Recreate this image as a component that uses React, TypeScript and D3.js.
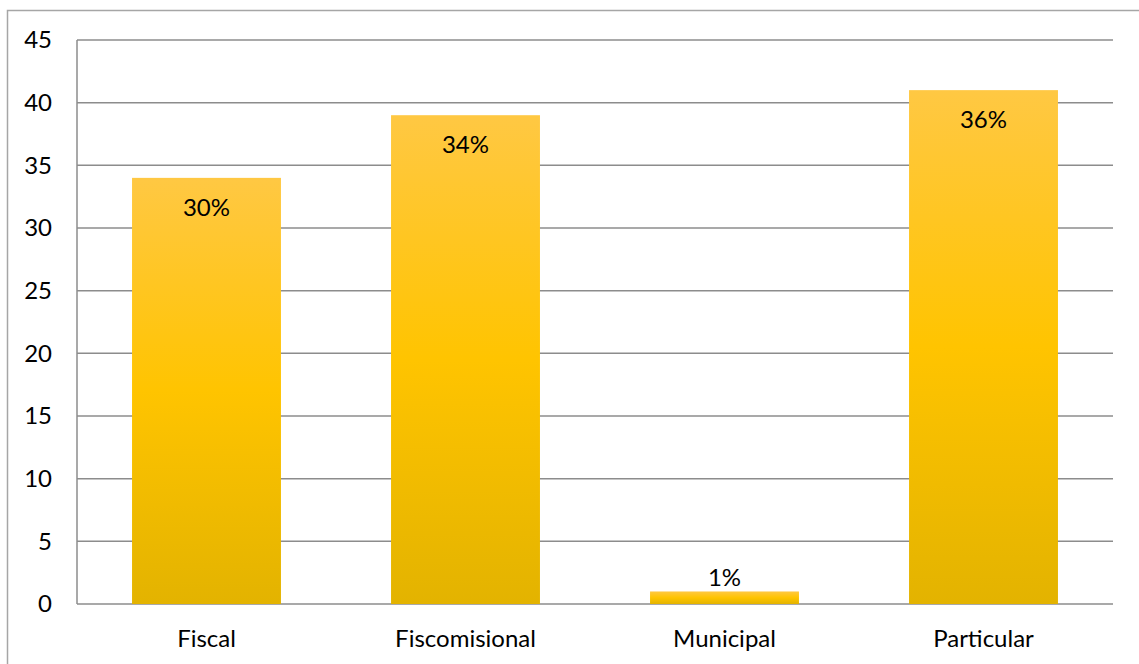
import React from "react";
import * as d3 from "d3";

const categories = ["Fiscal", "Fiscomisional", "Municipal", "Particular"];
const values = [34, 39, 1, 41];
const labels = ["30%", "34%", "1%", "36%"];
const yTicks = [0, 5, 10, 15, 20, 25, 30, 35, 40, 45];

export default function App() {
  const W = 1139, H = 664;
  const left = 77, right = 1113, top = 40, bottom = 604;
  const x = d3.scaleBand<string>().domain(categories).range([left, right]).paddingInner(0.425).paddingOuter(0.2125);
  const y = d3.scaleLinear().domain([0, 45]).range([bottom, top]);
  const font = "Lato, 'Open Sans', sans-serif";
  const fs = 24;
  return (
    <svg width={W} height={H} style={{ position: "absolute", left: 0, top: 0, background: "#fff" }}>
      <defs>
        <linearGradient id="gold" x1="0" y1="0" x2="0" y2="1">
          <stop offset="0" stopColor="#FFC843" />
          <stop offset="0.5" stopColor="#FFC400" />
          <stop offset="1" stopColor="#E3B300" />
        </linearGradient>
      </defs>
      <rect x={7.5} y={10.5} width={W + 20} height={H + 20} fill="none" stroke="#A6A6A6" strokeWidth={1.5} />
      {yTicks.map((t) => (
        <g key={t}>
          <line x1={left} x2={right} y1={y(t)} y2={y(t)} stroke="#8C8C8C" strokeWidth={1.5} />
          <text x={52} y={y(t)} dy="0.35em" textAnchor="end" fontFamily={font} fontSize={fs} fill="#000">{t}</text>
        </g>
      ))}
      <line x1={left} x2={left} y1={top} y2={bottom} stroke="#8C8C8C" strokeWidth={1.5} />
      {categories.map((c, i) => {
        const bx = x(c)!;
        const by = y(values[i]);
        return (
          <g key={c}>
            <rect x={bx} y={by} width={x.bandwidth()} height={bottom - by} fill="url(#gold)" />
            <text x={bx + x.bandwidth() / 2} y={values[i] > 5 ? by + 38 : by - 5} textAnchor="middle" fontFamily={font} fontSize={fs} fill="#000">{labels[i]}</text>
            <text x={bx + x.bandwidth() / 2} y={647} textAnchor="middle" fontFamily={font} fontSize={fs} fill="#000">{c}</text>
          </g>
        );
      })}
    </svg>
  );
}
